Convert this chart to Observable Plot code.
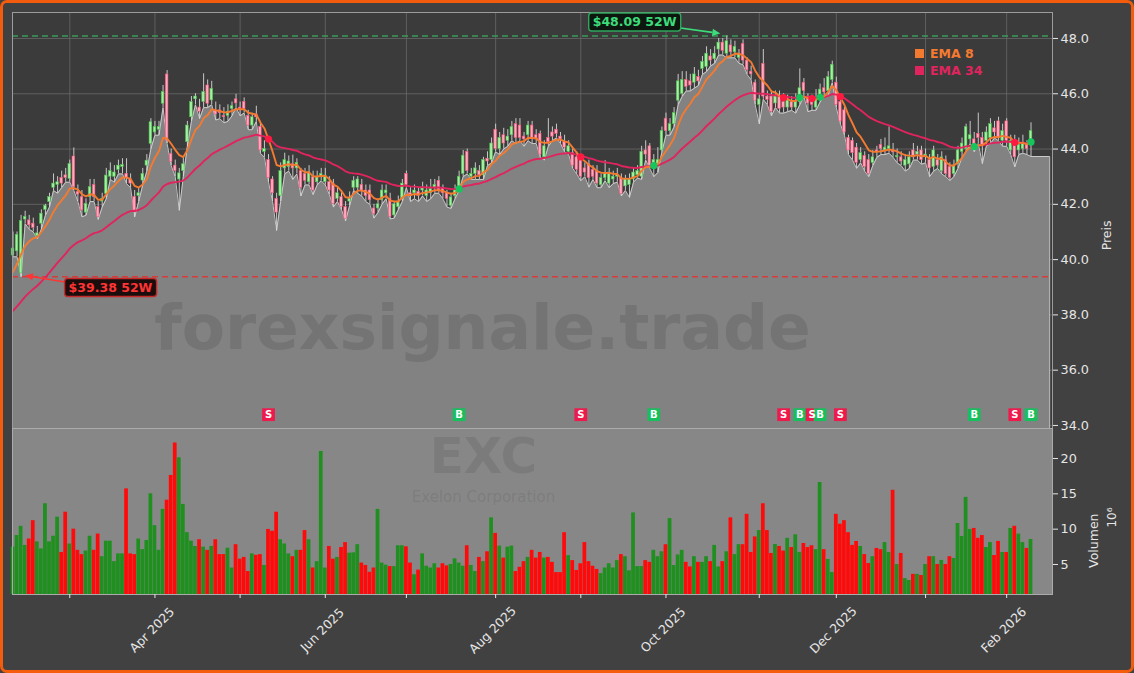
<!DOCTYPE html>
<html><head><meta charset="utf-8">
<script src="https://cdn.jsdelivr.net/npm/d3@7"></script>
<script src="https://cdn.jsdelivr.net/npm/@observablehq/plot@0.6"></script>
<style>
html,body{margin:0;padding:0;background:#414141;}
#wrap{position:relative;width:1134px;height:673px;background:#414141;overflow:hidden;font-family:"DejaVu Sans",sans-serif;}
#wrap svg{position:absolute;left:0;}
#border{position:absolute;left:0;top:0;width:1134px;height:673px;box-sizing:border-box;border:3px solid #f25c0c;border-radius:7px;pointer-events:none;z-index:5;}
.leg{position:absolute;display:flex;align-items:center;height:14px;font-weight:bold;font-size:12.5px;z-index:4;}
.leg span{display:inline-block;width:9px;height:9px;margin-right:6px;}
</style></head>
<body><div id="wrap"><div id="border"></div>
<div class="leg" style="left:915px;top:46.5px;color:#f47a30"><span style="background:#f47a30"></span>EMA 8</div>
<div class="leg" style="left:915px;top:63.5px;color:#e0245e"><span style="background:#e0245e"></span>EMA 34</div>
</div>
<script>
// ---- data (Feb 10 2025 .. Feb 10 2026, trading-day index) ----
const open = [40.15,40.3,39.5,41.45,41.42,41.3,40.85,41.3,41.8,42.08,
42.6,42.7,42.95,43.05,42.92,43.73,42.45,42.26,41.7,42.26,
42.7,41.9,42.1,42.38,43.0,43.0,43.25,43.35,43.1,42.9,
42.26,42.3,42.86,43.4,44.19,44.6,44.7,45.64,46.7,43.83,
43.4,42.9,43.2,44.25,45.15,45.8,45.5,45.7,46.3,45.76,
45.4,45.4,45.2,45.2,45.45,45.8,45.5,45.7,45.2,44.85,
45.25,44.8,43.9,43.6,42.9,42.2,42.3,43.3,43.35,43.45,
43.3,43.2,43.1,42.8,42.98,42.8,43.0,42.8,42.8,42.74,
42.2,42.26,41.9,42.1,42.6,42.6,42.7,42.5,42.5,41.85,
41.85,42.15,42.4,42.2,41.6,41.9,42.2,43.1,42.4,42.4,
42.45,42.5,42.3,42.4,42.6,42.85,42.6,42.4,41.95,42.3,
42.6,43.1,43.9,43.0,43.1,43.2,43.05,43.65,43.6,44.7,
44.0,44.5,44.3,44.5,44.9,44.85,44.45,44.5,44.85,44.5,
44.55,43.7,44.4,44.6,44.7,44.45,44.25,43.9,43.85,43.7,
43.6,43.3,43.45,43.25,43.2,42.7,42.95,42.75,42.9,43.0,
42.95,42.65,42.7,42.9,43.05,43.0,43.95,44.1,43.35,43.45,
43.95,45.1,44.65,44.9,45.75,46.0,46.5,46.45,46.4,46.6,
46.9,46.97,47.35,47.25,47.6,47.85,47.45,47.75,47.5,47.3,
47.8,47.2,46.8,46.4,45.6,47.08,45.9,45.9,45.65,45.9,
45.7,45.5,45.7,45.5,45.7,46.4,45.9,45.75,45.5,45.85,
46.2,46.1,46.5,46.4,45.7,45.4,44.4,44.3,44.05,43.6,
43.75,43.6,43.5,43.95,44.15,43.95,44.0,43.95,43.7,43.7,
43.4,43.45,43.95,43.8,43.95,43.7,43.6,43.35,43.6,43.2,
43.6,43.35,43.1,43.45,43.9,44.0,44.35,44.35,44.55,44.4,
44.3,44.4,44.75,45.0,44.3,45.0,43.95,44.3,43.95,44.0,
44.2,44.3];
const high = [41.0,41.0,41.6,41.75,41.6,41.5,41.2,41.8,42.0,42.4,
43.1,43.0,43.2,43.3,43.6,44.04,42.7,42.5,42.2,42.9,
42.9,42.1,42.4,43.3,43.5,43.4,43.6,43.65,43.65,43.1,
42.5,42.6,43.3,43.8,45.1,45.0,45.0,46.3,46.84,44.0,
43.6,43.3,43.7,45.0,45.9,46.0,45.8,46.72,46.5,46.45,
45.7,45.6,45.5,45.6,45.7,45.98,45.7,45.85,45.4,45.3,
45.55,45.0,44.3,43.8,43.0,42.4,43.5,43.85,43.75,43.78,
43.65,43.3,43.3,43.4,43.2,43.2,43.3,43.3,43.0,42.9,
42.6,42.5,42.1,42.45,43.0,43.0,42.9,42.7,42.7,42.0,
42.2,42.7,42.7,42.4,42.1,42.3,42.9,43.2,42.6,42.7,
42.6,42.8,42.7,42.9,42.9,43.0,42.7,42.5,42.4,42.7,
43.2,43.95,44.0,43.3,43.5,43.4,43.7,43.9,44.4,44.9,
44.6,44.75,44.7,45.0,45.1,45.1,44.6,45.0,45.0,44.7,
44.65,44.3,45.1,44.8,44.9,44.6,44.5,44.3,44.0,43.9,
43.7,43.5,43.6,43.4,43.4,43.1,43.58,43.3,43.2,43.3,
43.1,43.05,43.1,43.3,43.4,44.1,44.3,44.2,43.8,44.05,
44.8,45.3,45.1,45.5,46.7,46.8,46.8,46.7,46.95,46.85,
47.35,47.7,47.6,47.7,48.0,48.0,48.09,47.95,47.9,47.6,
47.95,47.3,47.0,46.5,45.95,47.6,46.1,46.1,46.1,46.1,
46.0,45.95,45.9,46.0,46.9,46.55,46.0,45.95,46.15,46.35,
46.55,46.8,47.18,46.6,45.8,45.5,44.5,44.4,44.2,44.05,
43.9,43.8,43.95,44.1,44.35,44.4,44.8,44.2,44.0,43.9,
43.8,43.9,44.2,44.1,44.1,44.0,43.8,44.1,43.8,43.9,
43.75,43.5,43.6,44.1,44.4,44.9,45.0,44.6,45.3,44.6,
44.8,45.1,45.0,45.15,44.9,45.1,44.5,44.5,44.4,44.5,
44.3,44.95];
const low = [40.1,40.1,39.38,41.3,41.1,41.0,40.75,41.1,41.6,41.9,
42.5,42.4,42.6,42.8,42.8,42.5,42.1,41.55,41.6,42.1,
42.1,41.45,41.9,42.2,42.9,42.8,43.1,43.1,42.75,42.6,
41.54,42.1,42.7,43.2,44.0,44.5,44.5,45.5,44.2,43.4,
43.0,41.78,43.0,44.1,45.0,45.6,45.1,45.5,45.5,45.6,
45.05,45.1,44.95,45.0,45.2,45.5,45.2,45.3,44.7,44.7,
45.0,43.85,43.7,42.8,42.1,41.05,42.1,43.1,43.2,42.9,
43.1,42.3,42.7,42.7,42.35,42.7,42.85,42.7,42.35,41.9,
42.1,41.8,41.4,41.95,42.5,42.4,42.3,42.1,42.0,41.5,
41.7,42.0,42.2,41.47,41.5,41.8,42.1,42.6,42.1,42.2,
42.1,42.3,42.1,42.2,42.4,42.4,42.2,41.9,41.85,42.2,
42.5,43.0,43.1,42.9,42.9,42.9,42.9,43.4,43.5,43.9,
43.8,44.0,44.1,44.3,44.2,44.3,44.1,44.3,44.2,44.2,
43.7,43.6,44.1,44.3,44.4,44.2,43.9,43.8,43.3,43.1,
42.85,43.0,42.62,42.9,42.6,42.6,42.85,42.6,42.75,42.8,
42.3,42.5,42.25,42.8,42.95,42.9,43.6,43.3,43.0,43.15,
43.9,44.5,44.5,44.8,45.6,45.9,46.1,46.1,46.2,46.3,
46.7,46.8,47.0,47.1,47.4,47.4,47.3,47.3,47.3,47.1,
47.05,46.7,46.5,45.6,44.91,45.8,45.6,45.2,45.5,45.3,
45.3,45.35,45.4,45.3,45.6,45.9,45.35,45.4,45.4,45.7,
45.9,45.95,46.4,45.5,44.9,44.5,43.8,43.6,43.3,43.5,
43.2,43.0,43.4,43.7,43.8,43.8,43.85,43.7,43.5,43.4,
43.2,43.3,43.6,43.6,43.45,43.5,43.0,43.2,43.3,43.1,
43.0,42.86,43.0,43.3,43.7,43.9,44.2,43.9,44.2,43.47,
44.1,44.2,44.4,44.3,44.1,44.1,43.8,43.35,43.8,43.85,
43.8,43.73];
const close = [40.4,40.9,41.4,41.55,41.24,41.15,40.95,41.66,41.95,42.26,
42.75,42.8,42.75,42.95,43.46,42.62,42.35,41.78,42.02,42.62,
42.26,41.55,42.2,43.04,43.2,43.15,43.4,43.42,42.95,42.75,
41.78,42.4,43.1,43.58,44.97,44.8,44.8,46.06,44.3,43.53,
43.2,43.12,43.45,44.85,45.7,45.9,45.35,46.06,45.64,46.18,
45.25,45.3,45.15,45.35,45.55,45.65,45.45,45.45,44.85,45.15,
45.15,43.95,44.0,42.95,42.4,41.7,43.2,43.6,43.55,43.3,
43.5,42.6,42.85,43.15,42.5,42.98,43.1,43.04,42.5,42.02,
42.4,41.9,41.48,42.2,42.85,42.9,42.5,42.3,42.15,41.65,
42.0,42.5,42.5,41.55,42.0,42.1,42.75,42.7,42.3,42.5,
42.3,42.6,42.5,42.55,42.7,42.5,42.4,42.2,42.25,42.5,
43.0,43.76,43.2,43.1,43.3,43.05,43.6,43.55,44.2,44.0,
44.4,44.2,44.45,44.8,44.4,44.4,44.35,44.85,44.37,44.35,
43.8,44.1,44.25,44.45,44.55,44.35,44.05,44.1,43.4,43.25,
43.0,43.15,42.95,43.0,42.75,42.95,43.1,43.15,43.0,43.05,
42.38,42.9,42.9,43.15,43.2,43.9,43.8,43.4,43.6,43.6,
44.65,44.65,44.9,45.3,46.45,46.5,46.25,46.3,46.7,46.45,
47.15,47.45,47.2,47.45,47.85,47.55,47.9,47.5,47.7,47.45,
47.2,46.85,46.7,45.75,45.8,45.9,45.78,45.35,45.9,45.45,
45.5,45.75,45.5,45.75,46.2,46.1,45.65,45.6,45.8,46.15,
46.05,46.6,47.05,45.6,45.0,44.6,43.95,43.85,43.5,43.85,
43.35,43.1,43.7,43.9,44.0,44.05,44.1,43.88,43.75,43.55,
43.6,43.7,43.7,43.9,43.6,43.8,43.3,43.95,43.4,43.7,
43.1,42.95,43.4,43.95,44.2,44.8,44.5,44.1,44.4,44.15,
44.6,44.9,44.6,44.4,44.65,44.3,44.3,43.7,44.15,44.2,
44.0,44.65];
const volume = [7.45,9.1,10.4,7.7,8.6,11.2,8.2,7.2,13.6,8.2,
9.0,11.7,6.7,12.4,7.9,10.0,7.0,6.4,6.9,9.0,
7.0,9.3,6.1,8.3,8.3,5.4,6.5,6.5,15.7,6.5,
6.4,8.6,7.1,8.4,15.0,10.5,7.0,12.8,14.1,17.6,
22.2,20.1,13.5,9.5,8.3,7.55,8.5,7.45,7.0,7.55,
8.5,6.4,6.4,7.3,4.5,7.8,5.75,6.0,4.0,6.5,
6.3,6.4,4.86,9.96,9.7,12.4,8.5,7.9,6.5,6.1,
7.0,7.0,9.8,8.5,4.5,5.4,21.0,4.5,7.55,5.75,
6.0,7.4,8.1,6.6,6.65,7.8,5.2,4.86,3.9,4.5,
12.8,5.2,4.9,4.7,4.7,7.65,7.65,7.5,5.2,3.55,
4.2,6.5,4.75,4.5,5.1,4.5,5.1,4.8,5.0,5.8,
5.2,4.75,7.65,4.86,4.0,6.0,5.4,6.8,11.6,9.4,
7.6,5.9,7.45,7.6,4.0,4.6,5.4,6.0,7.0,5.9,
6.7,5.9,6.0,5.3,3.85,3.85,9.5,6.25,5.55,4.15,
5.1,8.1,5.4,4.75,4.3,3.7,4.5,5.1,4.5,5.55,
6.4,6.1,4.1,12.3,4.7,4.7,5.55,5.3,7.0,6.1,
6.8,7.8,11.5,4.85,6.35,7.0,5.3,4.65,6.1,5.3,
5.3,6.1,5.4,7.7,4.65,5.4,6.8,11.6,6.4,7.8,
7.8,12.1,6.7,8.9,9.8,13.6,9.8,6.56,7.83,7.55,
6.9,8.7,7.4,9.2,6.7,7.97,7.4,7.65,7.1,16.6,
7.1,5.7,3.87,12.1,10.7,11.2,9.5,7.7,8.26,7.55,
6.4,5.14,6.1,7.27,7.1,8.1,6.7,15.5,5.0,6.56,
3.0,2.73,3.6,3.6,3.44,5.0,6.1,6.1,5.0,5.57,
5.0,6.1,5.85,10.8,8.97,14.5,9.96,10.1,8.7,9.1,
7.4,8.1,6.27,8.26,6.7,6.7,10.1,10.4,9.3,8.1,
7.27,8.54];
const ema8Start = 39.55, ema34Start = 38.15;         // EMA values at the first bar
const monthTickIdx = [14,35,56,77,97,119,140,161,184,203,225,245];
const monthTickLabel = ["","Apr 2025","","Jun 2025","","Aug 2025","","Oct 2025","","Dec 2025","","Feb 2026"];
const priceTicks = [34,36,38,40,42,44,46,48];
const volTicks = [5,10,15,20];
const sigIdx = [63,110,140,158,190,194,197,199,204,237,247,251];
const sigType = ["S","B","S","B","S","B","S","B","S","B","S","B"];

// ---- derived rows ----
const N = close.length, a8 = 2/9, a34 = 2/35;
let e8 = ema8Start, e34 = ema34Start;
const rows = [];
for (let j = 0; j < N; j++) {
  if (j > 0) { e8 = a8*close[j] + (1-a8)*e8; e34 = a34*close[j] + (1-a34)*e34; }
  rows.push({j, o: open[j], h: high[j], l: low[j], c: close[j], v: volume[j], e8, e34, up: close[j] >= open[j]});
}
const xDomain = [-0.12, 256.3], pDomain = [33.89, 48.94], vDomain = [0.75, 24.25];
const areaEnd = 255.6;
const areaRows = rows.map(d => ({j: d.j, l: d.l})).concat([{j: areaEnd, l: low[N-1]}]);
const outline = areaRows.concat([{j: areaEnd, l: pDomain[0]}]);
const hiVal = d3.max(high), hiIdx = high.indexOf(hiVal);
const loVal = d3.min(low), loIdx = low.indexOf(loVal);
const sigs = sigIdx.map((j, k) => ({j, t: sigType[k], y: (rows[j].e8 + rows[j].e34)/2}));
const ticksLab = monthTickIdx.map((j,k)=>({j, t: monthTickLabel[k]})).filter(d=>d.t);
const FONT = "DejaVu Sans";
const upFill = "#a2f0a2", upStroke = "#4fc04f", dnFill = "#ffa9bc", dnStroke = "#f0557a";

const price = Plot.plot({
  width: 1134, height: 440, marginLeft: 12, marginRight: 82, marginTop: 12, marginBottom: 12,
  x: {domain: xDomain, axis: null},
  y: {domain: pDomain, axis: null},
  color: {type: "identity"},
  style: {background: "transparent", color: "#e6e6e6", fontFamily: FONT, fontSize: "12.8px", overflow: "visible"},
  marks: [
    Plot.frame({fill: "#3b3b3b"}),
    Plot.gridX(monthTickIdx, {stroke: "#686868", strokeOpacity: 1, strokeWidth: 0.8}),
    Plot.gridY(priceTicks, {stroke: "#686868", strokeOpacity: 1, strokeWidth: 0.8}),
    Plot.areaY(areaRows, {x: "j", y1: pDomain[0], y2: "l", fill: "#828282"}),
    Plot.line(outline, {x: "j", y: "l", stroke: "#d2d2d2", strokeWidth: 0.9}),
    Plot.text(["forexsignale.trade"], {frameAnchor: "middle", dx: -50, dy: 108, fontSize: 63, fontWeight: "bold", fill: "#3a3a3a", fillOpacity: 0.2}),
    Plot.ruleY([hiVal], {stroke: "#3a9c5c", strokeWidth: 1.5, strokeDasharray: "6,4"}),
    Plot.ruleY([loVal], {stroke: "#d43d3d", strokeWidth: 1.5, strokeDasharray: "6,4"}),
    Plot.ruleX(rows, {x: "j", y1: "l", y2: "h", stroke: "#d8d8d8", strokeWidth: 0.9}),
    Plot.rect(rows, {x1: d => d.j - 0.32, x2: d => d.j + 0.32, y1: d => Math.min(d.o, d.c), y2: d => Math.max(d.o, d.c),
      fill: d => d.up ? upFill : dnFill, stroke: d => d.up ? upStroke : dnStroke, strokeWidth: 0.6}),
    Plot.line(rows, {x: "j", y: "e34", stroke: "#e0245e", strokeWidth: 1.9}),
    Plot.line(rows, {x: "j", y: "e8", stroke: "#f47a30", strokeWidth: 1.9}),
    Plot.dot(sigs, {x: "j", y: "y", r: 3.6, fill: d => d.t === "B" ? "#16c55c" : "#ff1a42", stroke: "none"}),
    Plot.dot(sigs, {x: "j", y: 34.39, symbol: "square", r: 7.2, fill: d => d.t === "B" ? "#18bf5e" : "#ee1a4c", stroke: "none"}),
    Plot.text(sigs, {x: "j", y: 34.39, text: "t", fill: "white", fontWeight: "bold", fontSize: 10}),
    Plot.frame({stroke: "#9c9c9c", strokeWidth: 1}),
    Plot.axisY(priceTicks, {anchor: "right", tickFormat: d => d.toFixed(1), tickSize: 5, tickPadding: 3, fontSize: 12.8, label: null}),
    Plot.text(["Preis"], {frameAnchor: "right", dx: 54, rotate: -90, fontSize: 12.5, fill: "#e6e6e6"})
  ]
});
price.style.top = "0px";

const vol = Plot.plot({
  width: 1134, height: 245, marginLeft: 12, marginRight: 82, marginTop: 0, marginBottom: 79,
  x: {domain: xDomain, axis: null},
  y: {domain: vDomain, axis: null},
  color: {type: "identity"},
  style: {background: "transparent", color: "#e6e6e6", fontFamily: FONT, fontSize: "12.8px", overflow: "visible"},
  marks: [
    Plot.frame({fill: "#878787"}),
    Plot.text(["EXC"], {frameAnchor: "middle", dx: -49, dy: -55, fontSize: 50, fontWeight: "bold", fill: "#3a3a3a", fillOpacity: 0.15}),
    Plot.text(["Exelon Corporation"], {frameAnchor: "middle", dx: -49, dy: -14, fontSize: 15, fill: "#3a3a3a", fillOpacity: 0.15}),
    Plot.rect(rows, {x1: d => d.j - 0.46, x2: d => d.j + 0.46, y1: vDomain[0], y2: "v", fill: d => d.up ? "#1f8f1f" : "#ff0a0a"}),
    Plot.frame({stroke: "#ababab", strokeWidth: 1}),
    Plot.axisY(volTicks, {anchor: "right", tickSize: 5, tickPadding: 3, fontSize: 12.8, label: null}),
    Plot.axisX(monthTickIdx, {anchor: "bottom", tickSize: 4, tickFormat: () => "", label: null}),
    Plot.text(ticksLab, {x: "j", frameAnchor: "bottom", dy: 38.5, rotate: -45, text: "t", fontSize: 12.5, fill: "#e6e6e6"}),
    Plot.text(["Volumen"], {frameAnchor: "right", dx: 41, dy: 2, rotate: -90, fontSize: 12.5, fill: "#e6e6e6"}),
    Plot.text(["10\u2076"], {frameAnchor: "right", dx: 60, dy: -4, rotate: -90, fontSize: 12, fill: "#e6e6e6"})
  ]
});
vol.style.top = "428px";

const wrap = document.getElementById("wrap");
wrap.insertBefore(vol, wrap.firstChild);
wrap.insertBefore(price, wrap.firstChild);

// ---- 52-week annotations (positioned from the data through Plot's scales) ----
function annotate(svg, a) {
  const X = svg.scale("x"), Y = svg.scale("y");
  const px = X.apply(a.j), py = Y.apply(a.v);
  const g = d3.select(svg).append("g");
  const sx = px + a.from[0], sy = py + a.from[1], tx = px + a.to[0], ty = py + a.to[1];
  const ang = Math.atan2(ty - sy, tx - sx), hl = 8, hw = 3.6;
  const bx = tx - hl*Math.cos(ang), by = ty - hl*Math.sin(ang);
  g.append("line").attr("x1", sx).attr("y1", sy).attr("x2", bx).attr("y2", by).attr("stroke", a.color).attr("stroke-width", 1.6);
  g.append("path").attr("d", `M${tx},${ty}L${bx - hw*Math.sin(ang)},${by + hw*Math.cos(ang)}L${bx + hw*Math.sin(ang)},${by - hw*Math.cos(ang)}Z`).attr("fill", a.color);
  const t = g.append("text").attr("x", px + a.box[0]).attr("y", py + a.box[1]).attr("text-anchor", "middle").attr("dy", "0.36em")
    .attr("font-family", FONT).attr("font-weight", "bold").attr("font-size", 12.5).attr("fill", a.color).text(a.label);
  const bb = t.node().getBBox();
  g.insert("rect", "text").attr("x", bb.x - 4).attr("y", bb.y - 1.5).attr("width", bb.width + 8).attr("height", bb.height + 3)
    .attr("rx", 3).attr("fill", a.bg).attr("stroke", a.border).attr("stroke-width", 1.4);
}
annotate(price, {j: hiIdx, v: hiVal, label: `$${hiVal.toFixed(2)} 52W`, color: "#3ddc7a", border: "#2ea85c", bg: "#0d1710",
  box: [-91.7, -13.5], from: [-46, -7.5], to: [-6, -2]});
annotate(price, {j: loIdx, v: loVal, label: `$${loVal.toFixed(2)} 52W`, color: "#ff3434", border: "#c42a2a", bg: "#1c0d0d",
  box: [89.9, 11.2], from: [44.4, 5.7], to: [4.4, -0.8]});
</script></body></html>
